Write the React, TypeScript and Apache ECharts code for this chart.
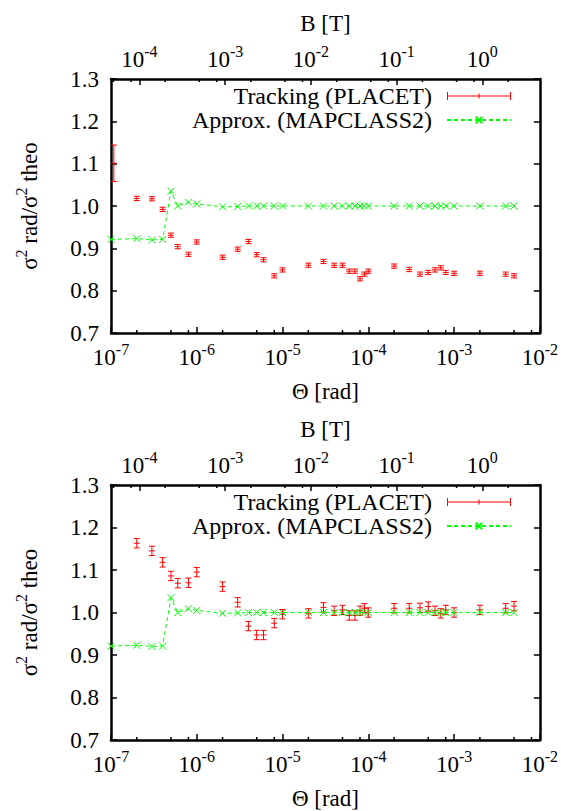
import React, { useEffect, useRef } from 'react';
import * as echarts from 'echarts';

// ---- data ----
const thetaRad = [
  1e-7, 2e-7, 3e-7, 4e-7, 5e-7, 6e-7, 8e-7, 1e-6, 2e-6, 3e-6, 4e-6, 5e-6, 6e-6, 8e-6,
  1e-5, 2e-5, 3e-5, 4e-5, 5e-5, 6e-5, 7e-5, 8e-5, 9e-5, 1e-4, 2e-4, 3e-4, 4e-4, 5e-4,
  6e-4, 7e-4, 8e-4, 1e-3, 2e-3, 4e-3, 5e-3,
];
const approxRatio = [
  0.921, 0.923, 0.920, 0.921, 1.035, 1.000, 1.009, 1.005, 0.998, 0.999, 1.000, 1.000, 1.000, 1.000,
  1.000, 1.000, 1.000, 1.000, 1.000, 1.000, 1.000, 1.000, 1.000, 1.000, 1.000, 1.000, 1.000, 1.000,
  1.000, 1.000, 1.000, 1.000, 1.000, 1.000, 1.000,
];
// upper panel: tracking
const trackTheta1 = [
  1.08e-7, 2e-7, 3e-7, 4e-7, 5e-7, 6e-7, 8e-7, 1e-6, 2e-6, 3e-6, 4e-6, 5e-6, 6e-6, 8e-6,
  1e-5, 2e-5, 3e-5, 4e-5, 5e-5, 6e-5, 7e-5, 8e-5, 9e-5, 1e-4, 2e-4, 3e-4, 4e-4, 5e-4,
  6e-4, 7e-4, 8e-4, 1e-3, 2e-3, 4e-3, 5e-3,
];
const trackRatio1 = [
  1.101, 1.018, 1.017, 0.992, 0.931, 0.904, 0.886, 0.915, 0.879, 0.898, 0.916, 0.885, 0.873, 0.835,
  0.849, 0.860, 0.869, 0.860, 0.860, 0.846, 0.846, 0.828, 0.839, 0.846, 0.858, 0.850, 0.839, 0.843,
  0.849, 0.854, 0.843, 0.841, 0.841, 0.839, 0.835,
];
const trackErr1 = [
  0.043, 0.005, 0.005, 0.005, 0.005, 0.005, 0.005, 0.005, 0.005, 0.005, 0.005, 0.005, 0.005, 0.005,
  0.005, 0.005, 0.005, 0.005, 0.005, 0.005, 0.005, 0.005, 0.005, 0.005, 0.005, 0.005, 0.005, 0.005,
  0.005, 0.005, 0.005, 0.005, 0.005, 0.005, 0.005,
];
// lower panel: tracking
const trackTheta2 = [
  2e-7, 3e-7, 4e-7, 5e-7, 6e-7, 8e-7, 1e-6, 2e-6, 3e-6, 4e-6, 5e-6, 6e-6, 8e-6,
  1e-5, 2e-5, 3e-5, 4e-5, 5e-5, 6e-5, 7e-5, 8e-5, 9e-5, 1e-4, 2e-4, 3e-4, 4e-4, 5e-4,
  6e-4, 7e-4, 8e-4, 1e-3, 2e-3, 4e-3, 5e-3,
];
const trackRatio2 = [
  1.163, 1.145, 1.118, 1.086, 1.069, 1.070, 1.095, 1.061, 1.024, 0.968, 0.947, 0.947, 0.975,
  0.996, 0.998, 1.012, 1.004, 1.006, 0.993, 0.993, 1.004, 1.010, 1.000, 1.010, 1.010, 1.011, 1.014,
  1.004, 0.998, 1.006, 1.000, 1.006, 1.010, 1.015,
];
const trackErr2 = [
  0.011, 0.011, 0.011, 0.011, 0.011, 0.011, 0.011, 0.011, 0.011, 0.011, 0.011, 0.011, 0.011,
  0.011, 0.011, 0.011, 0.011, 0.011, 0.011, 0.011, 0.011, 0.011, 0.011, 0.011, 0.011, 0.011, 0.011,
  0.011, 0.011, 0.011, 0.011, 0.011, 0.011, 0.011,
];
// axes
const thetaRange = [1e-7, 1e-2];
const bRangeExp = [-4.33, 0.67];
const bMajor = [1e-4, 1e-3, 1e-2, 1e-1, 1e0];
const thetaMinor = [
  2e-7, 5e-7, 8e-7, 2e-6, 5e-6, 8e-6, 2e-5, 5e-5, 8e-5, 2e-4, 5e-4, 8e-4, 2e-3, 5e-3, 8e-3,
];
const bMinor = [5e-5, 8e-5, 2e-4, 5e-4, 8e-4, 2e-3, 5e-3, 8e-3, 2e-2, 5e-2, 8e-2, 2e-1, 5e-1, 8e-1, 2e0];
const yRange = [0.7, 1.3];
const yStep = 0.1;

const NAME_TRACK = 'Tracking (PLACET)';
const NAME_APPROX = 'Approx. (MAPCLASS2)';
const RED = '#ff0000';
const GREEN = '#00ff00';
const FONT = 'Liberation Serif';
const FS = 23;

const supRich = {
  n: { fontFamily: FONT, fontSize: FS, color: '#000', verticalAlign: 'bottom', padding: [5, 0, 0, 0] },
  s: { fontFamily: FONT, fontSize: 16, color: '#000', verticalAlign: 'top' },
};
const powLabel = (v: number) => {
  const e = Math.log10(v);
  if (Math.abs(e - Math.round(e)) > 0.01) return '';
  return `{n|10}{s|${Math.round(e)}}`;
};

export default function App() {
  const ref = useRef<HTMLDivElement>(null);
  useEffect(() => {
    if (!ref.current) return;
    const chart = echarts.init(ref.current, undefined, { renderer: 'svg' });

    const grids = [
      { left: 111, top: 79, width: 429, height: 254 },
      { left: 111, top: 485, width: 429, height: 255 },
    ];
    const axisLine = { show: true, lineStyle: { color: '#000', width: 2.5 } };

    const xAxis: any[] = [];
    const yAxis: any[] = [];
    grids.forEach((_, g) => {
      xAxis.push({
        type: 'log', gridIndex: g, position: 'bottom', logBase: 10,
        min: thetaRange[0], max: thetaRange[1],
        name: 'Θ [rad]', nameLocation: 'middle', nameGap: 47,
        nameTextStyle: { fontFamily: FONT, fontSize: FS, color: '#000' },
        axisLine, splitLine: { show: false },
        axisTick: { inside: true, length: 6, lineStyle: { color: '#000', width: 1.5 } },
        axisLabel: { formatter: powLabel, rich: supRich, margin: 8 },
      });
      xAxis.push({
        type: 'log', gridIndex: g, position: 'top', logBase: 10,
        min: Math.pow(10, bRangeExp[0]), max: Math.pow(10, bRangeExp[1]),
        name: 'B [T]', nameLocation: 'middle', nameGap: 44,
        nameTextStyle: { fontFamily: FONT, fontSize: FS, color: '#000' },
        axisLine, splitLine: { show: false },
        axisTick: { inside: true, length: 6, customValues: bMajor, lineStyle: { color: '#000', width: 1.5 } },
        axisLabel: { formatter: powLabel, rich: supRich, margin: 8, customValues: bMajor },
      });
      yAxis.push({
        type: 'value', gridIndex: g, position: 'left',
        min: yRange[0], max: yRange[1], interval: yStep,
        name: '{a|σ}{s|2}{a| rad/σ}{s|2}{a| theo}', nameLocation: 'middle', nameGap: 70,
        nameTextStyle: {
          rich: {
            a: { fontFamily: FONT, fontSize: FS, color: '#000', verticalAlign: 'bottom', padding: [5, 0, 0, 0] },
            s: { fontFamily: FONT, fontSize: 16, color: '#000', verticalAlign: 'top' },
          },
        },
        axisLine, splitLine: { show: false },
        axisTick: { inside: true, length: 6, lineStyle: { color: '#000', width: 1.5 } },
        axisLabel: {
          fontFamily: FONT, fontSize: FS, color: '#000', margin: 12,
          formatter: (v: number) => v.toFixed(1),
        },
      });
      yAxis.push({
        type: 'value', gridIndex: g, position: 'right',
        min: yRange[0], max: yRange[1], interval: yStep,
        axisLine, splitLine: { show: false },
        axisTick: { inside: true, length: 6, lineStyle: { color: '#000', width: 1.5 } },
        axisLabel: { show: false },
      });
    });

    const errRender = (params: any, api: any) => {
      const x = api.value(0), y = api.value(1), e = api.value(2);
      const c = api.coord([x, y]);
      const t = api.coord([x, y + e]);
      const b = api.coord([x, y - e]);
      const style = { stroke: RED, lineWidth: 1 };
      return {
        type: 'group',
        children: [
          { type: 'line', shape: { x1: c[0], y1: t[1], x2: c[0], y2: b[1] }, style },
          { type: 'line', shape: { x1: c[0] - 3, y1: t[1], x2: c[0] + 3, y2: t[1] }, style },
          { type: 'line', shape: { x1: c[0] - 3, y1: b[1], x2: c[0] + 3, y2: b[1] }, style },
          { type: 'line', shape: { x1: c[0] - 3, y1: c[1], x2: c[0] + 3, y2: c[1] }, style },
        ],
      };
    };
    const minorRender = (top: boolean) => (params: any, api: any) => {
      const cs = params.coordSys;
      const x = api.coord([api.value(0), api.value(1)])[0];
      const y0 = top ? cs.y : cs.y + cs.height;
      const y1 = top ? y0 + 3 : y0 - 3;
      return { type: 'line', shape: { x1: x, y1: y0, x2: x, y2: y1 }, style: { stroke: '#000', lineWidth: 1.5 } };
    };

    const series: any[] = [];
    const panels = [
      { theta: trackTheta1, ratio: trackRatio1, err: trackErr1 },
      { theta: trackTheta2, ratio: trackRatio2, err: trackErr2 },
    ];
    panels.forEach((p, g) => {
      series.push({
        type: 'custom', name: NAME_TRACK, xAxisIndex: g * 2, yAxisIndex: g * 2,
        itemStyle: { color: RED },
        data: p.theta.map((t, i) => [t, p.ratio[i], p.err[i]]),
        renderItem: errRender, silent: true,
      });
      series.push({
        type: 'line', name: NAME_APPROX, xAxisIndex: g * 2, yAxisIndex: g * 2,
        data: thetaRad.map((t, i) => [t, approxRatio[i]]),
        lineStyle: { color: GREEN, width: 1, type: [4, 3] },
        itemStyle: { color: GREEN, borderColor: GREEN, borderWidth: 1 },
        symbol: 'path://M0,0L10,10M10,0L0,10', symbolSize: 7,
        silent: true,
      });
      series.push({
        type: 'custom', xAxisIndex: g * 2, yAxisIndex: g * 2, silent: true,
        data: thetaMinor.map((t) => [t, 1]), renderItem: minorRender(false),
      });
      series.push({
        type: 'custom', xAxisIndex: g * 2 + 1, yAxisIndex: g * 2, silent: true,
        data: bMinor.map((t) => [t, 1]), renderItem: minorRender(true),
      });
    });

    const legend = grids.map((gr) => ({
      orient: 'vertical', right: 49, top: gr.top + 5, align: 'right', padding: 0, itemGap: 0,
      itemWidth: 64, itemHeight: 8, selectedMode: false,
      textStyle: { fontFamily: FONT, fontSize: 24, color: '#000', lineHeight: 24, padding: [0, 10, 0, 0] },
      data: [
        {
          name: NAME_TRACK,
          icon: 'path://M0,0h1v8h-1z M63,0h1v8h-1z M0,3.5h64v1h-64z M31.5,1.5h1v5h-1z',
          itemStyle: { color: RED },
        },
        { name: NAME_APPROX },
      ],
    }));

    chart.setOption({
      animation: false,
      backgroundColor: '#fff',
      grid: grids.map((g) => ({ ...g, containLabel: false })),
      xAxis, yAxis, series, legend,
    });
    return () => chart.dispose();
  }, []);
  return <div ref={ref} style={{ position: 'fixed', left: 0, top: 0, width: 561, height: 811 }} />;
}
